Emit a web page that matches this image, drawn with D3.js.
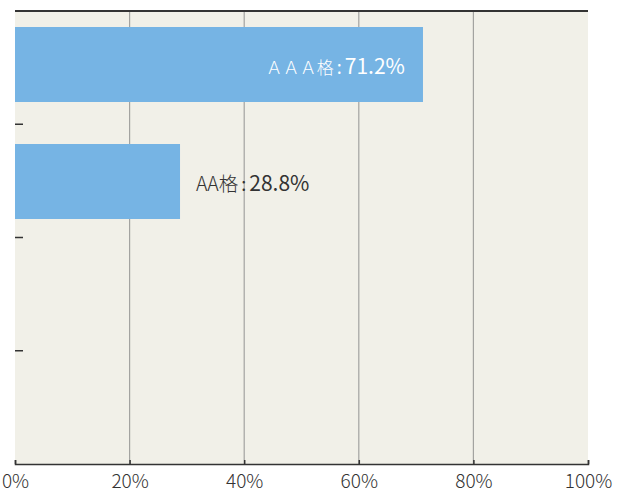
<!DOCTYPE html>
<html lang="ja">
<head>
<meta charset="utf-8">
<script src="https://d3js.org/d3.v7.min.js"></script>
<style>
  body { margin: 0; background: #fff; }
  text { font-family: "Noto Sans CJK JP", "Noto Sans", sans-serif; }
</style>
</head>
<body>
<svg id="chart" width="623" height="493"></svg>
<script>
// data
var categories = ["AAA", "AA", "A", "BBB"];
var names = ["ＡＡＡ格", "AA格", "", ""];
var values = [71.2, 28.8, null, null];
var xTicks = [0, 20, 40, 60, 80, 100];

var svg = d3.select("#chart"),
    margin = {top: 11, right: 35, bottom: 29, left: 15},
    width = 623 - margin.left - margin.right,
    height = 493 - margin.top - margin.bottom;

var g = svg.append("g").attr("transform", "translate(" + margin.left + "," + margin.top + ")");

var x = d3.scaleLinear().domain([0, 100]).range([0, width]);
// equal slots for the category dividers
var slot = d3.scaleBand().domain(categories).range([0, height]);
// bars sit a bit higher than the slot centres in the original
var y = d3.scaleBand().domain(categories).range([16, 16 + 117 * (4 - 42 / 117)])
    .paddingInner(42 / 117).paddingOuter(0);

g.append("rect")
    .attr("width", width).attr("height", height)
    .attr("fill", "#f1f0e8");

// grid
g.selectAll(".grid").data(xTicks.slice(1, -1)).enter().append("line")
    .attr("x1", function (d) { return x(d); }).attr("x2", function (d) { return x(d); })
    .attr("y1", 0).attr("y2", height)
    .attr("stroke", "#a3a3a0").attr("stroke-width", 1.2);

// bars
var rows = categories.map(function (c, i) { return {cat: c, name: names[i], v: values[i]}; })
    .filter(function (d) { return d.v != null; });

g.selectAll(".bar").data(rows).enter().append("rect")
    .attr("x", 0)
    .attr("y", function (d) { return y(d.cat); })
    .attr("width", function (d) { return x(d.v); })
    .attr("height", y.bandwidth())
    .attr("fill", "#76b4e4");

// labels: inside the bar when long, outside when short
var lab = g.selectAll(".lab").data(rows).enter().append("text")
    .attr("y", function (d) { return y(d.cat) + y.bandwidth() / 2 + 9.5; })
    .attr("x", function (d) { return d.v > 50 ? x(d.v) - 18 : x(d.v) + 16; })
    .attr("text-anchor", function (d) { return d.v > 50 ? "end" : "start"; })
    .attr("fill", function (d) { return d.v > 50 ? "#fff" : "#333"; });
lab.append("tspan").attr("font-size", function (d) { return d.v > 50 ? 17 : 19.5; })
    .attr("font-weight", 300)
    .text(function (d) { return d.name; });
lab.append("tspan").attr("font-size", 18).attr("font-weight", 400).attr("dx", 3)
    .text(":");
lab.append("tspan").attr("font-size", 21).attr("font-weight", 400).attr("dx", 3)
    .text(function (d) { return d.v.toFixed(1) + "%"; });

// left ticks at category boundaries
g.selectAll(".ltick").data(categories.slice(1)).enter().append("line")
    .attr("x1", 0).attr("x2", 8)
    .attr("y1", function (d) { return slot(d); })
    .attr("y2", function (d) { return slot(d); })
    .attr("stroke", "#333").attr("stroke-width", 1.5);

// top border
g.append("line").attr("x1", 0).attr("x2", width).attr("y1", 0).attr("y2", 0)
    .attr("stroke", "#333").attr("stroke-width", 2);

// bottom axis
var xAxis = g.append("g").attr("transform", "translate(0," + height + ")")
    .call(d3.axisBottom(x).tickValues(xTicks).tickSize(-4).tickPadding(11)
        .tickFormat(function (d) { return d + "%"; }));
xAxis.select(".domain").attr("stroke", "#333").attr("stroke-width", 1.5);
xAxis.selectAll(".tick line").attr("stroke", "#333").attr("stroke-width", 1.5);
xAxis.selectAll("text").attr("font-size", 19).attr("font-weight", 300)
    .attr("fill", "#333").style("font-family", "\"Noto Sans CJK JP\", sans-serif");
</script>
</body>
</html>
